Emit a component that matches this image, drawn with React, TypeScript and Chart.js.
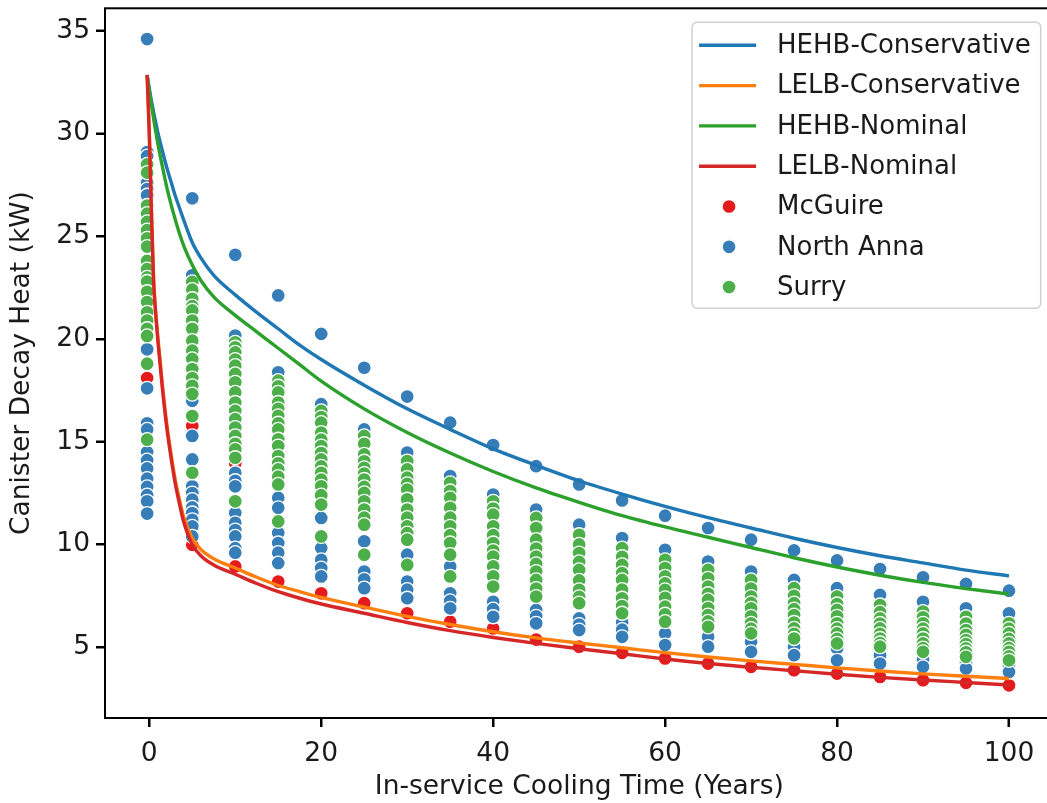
import { useEffect, useRef } from 'react';
import { Chart, registerables } from 'chart.js';

Chart.register(...registerables);

const FONT = "'DejaVu Sans', 'Liberation Sans', sans-serif";
const FONT_SIZE = 26.5;
const LEGEND_FONT_SIZE = 26;

// Cooling time (years) of each measured column
const coolingYears = [-0.25, 5, 10, 15, 20, 25, 30, 35, 40, 45, 50, 55, 60, 65, 70, 75, 80, 85, 90, 95, 100];

// Canister decay heat (kW) per column, by plant
const mcguireHeat: number[][] = [
  [18.1],
  [15.77, 9.98],
  [13.95, 8.93],
  [8.19],
  [7.62],
  [7.14],
  [6.65],
  [6.24],
  [5.91],
  [5.37],
  [5.02],
  [4.72],
  [4.45],
  [4.2],
  [4.04],
  [3.88],
  [3.71],
  [3.55],
  [3.39],
  [3.26],
  [3.14],
];

const northAnnaHeat: number[][] = [
  [34.6, 29.1, 28.9, 27.6, 27.3, 27.0, 26.2, 19.5, 17.6, 15.9, 15.6, 14.5, 14.1, 13.7, 13.2, 12.8, 12.4, 12.1, 11.5],
  [26.85, 23.1, 22.5, 16.99, 15.28, 14.14, 12.83, 12.5, 12.18, 11.8, 11.53, 11.2, 10.88, 10.39],
  [24.1, 20.17, 13.49, 13.1, 12.83, 11.53, 11.05, 10.7, 10.39, 9.82, 9.6],
  [22.12, 18.38, 12.27, 11.78, 10.56, 10.07, 9.6, 9.09],
  [20.25, 16.83, 11.29, 9.82, 9.25, 8.85, 8.44],
  [18.6, 15.6, 10.15, 8.68, 8.3, 7.87],
  [17.2, 14.47, 9.5, 8.19, 7.8, 7.38],
  [15.93, 13.33, 8.93, 7.62, 7.25, 6.89],
  [14.84, 12.43, 7.21, 6.85, 6.48],
  [13.81, 11.7, 6.81, 6.5, 6.16],
  [12.92, 10.96, 6.4, 6.1, 5.83],
  [12.14, 10.31, 6.2, 5.85, 5.5],
  [11.4, 9.74, 5.67, 5.1],
  [10.8, 9.17, 5.5, 5.02],
  [10.23, 8.68, 5.26, 4.77],
  [9.71, 8.27, 5.02, 4.61],
  [9.22, 7.87, 4.94, 4.36],
  [8.8, 7.54, 4.6, 4.2],
  [8.4, 7.21, 4.4, 4.04],
  [8.08, 6.89, 4.25, 3.96],
  [7.75, 6.65, 4.1, 3.79],
];

const surryHeat: number[][] = [
  [28.5, 28.1, 26.5, 26.1, 25.7, 25.3, 24.9, 24.5, 23.8, 23.4, 23.0, 22.8, 22.3, 21.8, 21.3, 20.9, 20.5, 20.15, 18.8, 15.1],
  [22.78, 22.4, 21.96, 21.6, 21.39, 20.9, 20.5, 19.92, 19.43, 19.03, 18.54, 18.1, 17.72, 17.32, 16.25, 13.49],
  [19.84, 19.6, 19.35, 19.0, 18.7, 18.3, 17.89, 17.4, 16.91, 16.5, 16.1, 15.69, 15.28, 14.9, 14.63, 14.22, 12.1],
  [17.97, 17.7, 17.4, 16.91, 16.6, 16.26, 15.9, 15.6, 15.12, 14.79, 14.3, 13.95, 13.65, 13.3, 12.92, 11.12],
  [16.5, 16.2, 15.93, 15.44, 15.1, 14.79, 14.45, 14.14, 13.8, 13.49, 13.15, 12.83, 12.4, 11.94, 10.39],
  [15.28, 14.9, 14.38, 14.05, 13.73, 13.45, 13.16, 12.8, 12.51, 12.1, 11.7, 11.3, 10.96, 9.5],
  [14.06, 13.65, 13.25, 12.95, 12.67, 12.2, 11.7, 11.3, 10.88, 10.55, 10.23, 9.0],
  [13.0, 12.6, 12.27, 11.78, 11.3, 10.88, 10.45, 10.07, 9.5, 8.44],
  [12.1, 11.75, 11.45, 10.88, 10.45, 10.07, 9.7, 9.41, 8.93, 8.45, 7.95],
  [11.29, 10.8, 10.23, 9.8, 9.41, 9.05, 8.68, 8.27, 7.85, 7.46],
  [10.47, 10.0, 9.58, 9.15, 8.76, 8.25, 7.79, 7.45, 7.14],
  [9.82, 9.4, 9.0, 8.6, 8.27, 7.8, 7.38, 7.0, 6.65],
  [9.25, 8.85, 8.44, 8.1, 7.79, 7.4, 6.97, 6.6, 6.24],
  [8.76, 8.35, 7.95, 7.6, 7.3, 6.9, 6.56, 6.25, 5.99],
  [8.27, 7.85, 7.46, 7.15, 6.89, 6.5, 6.16, 5.9, 5.67],
  [7.87, 7.5, 7.14, 6.85, 6.56, 6.2, 5.91, 5.65, 5.42],
  [7.46, 7.1, 6.81, 6.5, 6.16, 5.9, 5.67, 5.4, 5.18],
  [7.05, 6.7, 6.4, 6.15, 5.91, 5.65, 5.42, 5.2, 5.02],
  [6.73, 6.45, 6.16, 5.9, 5.67, 5.42, 5.18, 4.95, 4.77],
  [6.48, 6.15, 5.83, 5.6, 5.34, 5.15, 4.94, 4.75, 4.53],
  [6.16, 5.9, 5.67, 5.4, 5.18, 4.95, 4.77, 4.55, 4.36],
];

// Bounding decay-heat curves
const curveYears = [-0.25, 0, 0.25, 0.5, 0.75, 1, 1.5, 2, 2.5, 3, 3.5, 4, 5, 6, 7.5, 10, 12.5, 15, 17.5, 20, 25, 30, 35, 40, 45, 50, 55, 60, 65, 70, 75, 80, 85, 90, 95, 100];
const hehbConservative = [32.85, 32.2, 31.6, 31.05, 30.55, 30.05, 29.2, 28.4, 27.7, 27.0, 26.4, 25.8, 24.7, 23.95, 23.1, 22.15, 21.3, 20.5, 19.7, 19.0, 17.75, 16.6, 15.6, 14.65, 13.85, 13.1, 12.45, 11.85, 11.3, 10.8, 10.3, 9.85, 9.45, 9.1, 8.75, 8.47];
const lelbConservative = [32.85, 30.1, 26.3, 23.0, 21.3, 20.1, 17.9, 16.0, 14.5, 13.2, 12.2, 11.35, 10.3, 9.75, 9.3, 8.85, 8.4, 8.0, 7.7, 7.42, 6.95, 6.5, 6.1, 5.75, 5.45, 5.2, 4.97, 4.73, 4.52, 4.33, 4.16, 3.99, 3.84, 3.7, 3.58, 3.47];
const hehbNominal = [32.85, 32.1, 31.4, 30.75, 30.1, 29.5, 28.45, 27.45, 26.6, 25.85, 25.15, 24.55, 23.6, 22.85, 22.05, 21.15, 20.35, 19.55, 18.75, 17.95, 16.6, 15.45, 14.45, 13.55, 12.75, 12.05, 11.4, 10.85, 10.35, 9.85, 9.35, 8.9, 8.5, 8.15, 7.85, 7.58];
const lelbNominal = [32.85, 30.0, 26.1, 22.8, 21.2, 19.9, 17.7, 15.8, 14.3, 13.0, 12.0, 11.1, 10.0, 9.45, 9.0, 8.55, 8.1, 7.7, 7.38, 7.1, 6.65, 6.2, 5.8, 5.47, 5.18, 4.92, 4.68, 4.42, 4.2, 4.02, 3.85, 3.68, 3.53, 3.4, 3.28, 3.16];

const yearTicks = [0, 20, 40, 60, 80, 100];
const heatTicks = [5, 10, 15, 20, 25, 30, 35];

const lineSeries = [
  { label: 'HEHB-Conservative', color: '#1f77b4', values: hehbConservative },
  { label: 'LELB-Conservative', color: '#ff7f0e', values: lelbConservative },
  { label: 'HEHB-Nominal', color: '#2ca02c', values: hehbNominal },
  { label: 'LELB-Nominal', color: '#d62728', values: lelbNominal },
];

const plantSeries = [
  { label: 'McGuire', color: '#e41a1c', values: mcguireHeat },
  { label: 'North Anna', color: '#377eb8', values: northAnnaHeat },
  { label: 'Surry', color: '#4daf4a', values: surryHeat },
];

const TICK_LEN = 9;

export default function App() {
  const canvasRef = useRef<HTMLCanvasElement>(null);

  useEffect(() => {
    const canvas = canvasRef.current;
    if (!canvas) return;

    const lineSets = lineSeries.map((s, i) => ({
      type: 'line' as const,
      label: s.label,
      data: s.values.map((v, k) => ({ x: curveYears[k], y: v })),
      borderColor: s.color,
      backgroundColor: s.color,
      borderWidth: 3.4,
      pointRadius: 0,
      showLine: true,
      fill: false,
      cubicInterpolationMode: 'monotone' as const,
      order: 3 - i,
    }));

    const plantSets = plantSeries.map((s, i) => ({
      type: 'scatter' as const,
      label: s.label,
      data: s.values.flatMap((col, k) => col.map((v) => ({ x: coolingYears[k], y: v }))),
      backgroundColor: s.color,
      borderColor: '#ffffff',
      borderWidth: 1.3,
      pointRadius: 7,
      pointHoverRadius: 7,
      order: 6 - i,
    }));

    // Full box around the plotting area, with outward tick marks
    const framePlugin = {
      id: 'frameBox',
      afterDatasetsDraw(chart: Chart) {
        const { ctx, chartArea } = chart;
        const xs = chart.scales.x;
        const ys = chart.scales.y;
        ctx.save();
        ctx.strokeStyle = '#000';
        ctx.lineWidth = 2;
        ctx.strokeRect(chartArea.left, chartArea.top, chartArea.right - chartArea.left, chartArea.bottom - chartArea.top);
        ctx.beginPath();
        yearTicks.forEach((v) => {
          const px = Math.round(xs.getPixelForValue(v));
          ctx.moveTo(px, chartArea.bottom);
          ctx.lineTo(px, chartArea.bottom + TICK_LEN);
        });
        heatTicks.forEach((v) => {
          const py = Math.round(ys.getPixelForValue(v));
          ctx.moveTo(chartArea.left, py);
          ctx.lineTo(chartArea.left - TICK_LEN, py);
        });
        ctx.stroke();
        ctx.restore();
      },
    };

    // Boxed legend in the upper-right corner of the plotting area
    const legendPlugin = {
      id: 'boxLegend',
      afterDraw(chart: Chart) {
        const { ctx, chartArea } = chart;
        const entries = [
          ...lineSeries.map((s) => ({ label: s.label, color: s.color, kind: 'line' })),
          ...plantSeries.map((s) => ({ label: s.label, color: s.color, kind: 'dot' })),
        ];
        ctx.save();
        ctx.font = `${LEGEND_FONT_SIZE}px ${FONT}`;
        const textW = Math.max(...entries.map((e) => ctx.measureText(e.label).width));
        const boxW = 85 + textW + 10;
        const boxH = 286;
        const right = chartArea.right - 13;
        const left = right - boxW;
        const top = chartArea.top + 14;
        const r = 5;
        ctx.beginPath();
        ctx.moveTo(left + r, top);
        ctx.arcTo(right, top, right, top + boxH, r);
        ctx.arcTo(right, top + boxH, left, top + boxH, r);
        ctx.arcTo(left, top + boxH, left, top, r);
        ctx.arcTo(left, top, right, top, r);
        ctx.closePath();
        ctx.fillStyle = 'rgba(255,255,255,0.8)';
        ctx.fill();
        ctx.strokeStyle = '#d0d0d0';
        ctx.lineWidth = 1.5;
        ctx.stroke();

        entries.forEach((e, i) => {
          const cy = top + 23 + i * 40.3;
          if (e.kind === 'line') {
            ctx.strokeStyle = e.color;
            ctx.lineWidth = 3.4;
            ctx.beginPath();
            ctx.moveTo(left + 7, cy);
            ctx.lineTo(left + 64, cy);
            ctx.stroke();
          } else {
            ctx.beginPath();
            ctx.arc(left + 37, cy, 7, 0, Math.PI * 2);
            ctx.fillStyle = e.color;
            ctx.fill();
            ctx.strokeStyle = '#fff';
            ctx.lineWidth = 1.3;
            ctx.stroke();
          }
          ctx.fillStyle = '#1a1a1a';
          ctx.textAlign = 'left';
          ctx.textBaseline = 'middle';
          ctx.fillText(e.label, left + 85, cy + 1);
        });
        ctx.restore();
      },
    };

    const tickFont = { family: FONT, size: FONT_SIZE };

    const chart = new Chart(canvas, {
      type: 'scatter',
      data: { datasets: [...lineSets, ...plantSets] as any },
      options: {
        responsive: false,
        animation: false,
        devicePixelRatio: 1,
        layout: { padding: { left: 0, right: 5, top: 8, bottom: 0 } },
        plugins: {
          legend: { display: false },
          tooltip: { enabled: false },
        },
        scales: {
          x: {
            type: 'linear',
            min: -5.15,
            max: 105.2,
            afterFit: (scale: any) => {
              scale.height = 85;
              scale.paddingLeft = 0;
              scale.paddingRight = 0;
            },
            afterBuildTicks: (scale: any) => {
              scale.ticks = yearTicks.map((v) => ({ value: v }));
            },
            grid: {
              display: true,
              drawOnChartArea: false,
              drawTicks: true,
              tickLength: TICK_LEN,
              tickWidth: 2,
              tickColor: '#000',
            },
            border: { display: false },
            ticks: {
              font: tickFont,
              color: '#1a1a1a',
              padding: 11,
              maxRotation: 0,
              autoSkip: false,
            },
            title: {
              display: true,
              text: 'In-service Cooling Time (Years)',
              font: tickFont,
              color: '#1a1a1a',
              padding: { top: 0, bottom: 0 },
            },
          },
          y: {
            type: 'linear',
            min: 1.55,
            max: 36.1,
            afterFit: (scale: any) => {
              scale.width = 105;
              scale.paddingTop = 0;
              scale.paddingBottom = 0;
            },
            afterBuildTicks: (scale: any) => {
              scale.ticks = heatTicks.map((v) => ({ value: v }));
            },
            grid: {
              display: true,
              drawOnChartArea: false,
              drawTicks: true,
              tickLength: TICK_LEN,
              tickWidth: 2,
              tickColor: '#000',
            },
            border: { display: false },
            ticks: {
              font: tickFont,
              color: '#1a1a1a',
              padding: 6,
              autoSkip: false,
            },
            title: {
              display: true,
              text: 'Canister Decay Heat (kW)',
              font: tickFont,
              color: '#1a1a1a',
              padding: { top: 6, bottom: 0 },
            },
          },
        },
      },
      plugins: [framePlugin, legendPlugin],
    });

    return () => chart.destroy();
  }, []);

  return (
    <div
      style={{
        position: 'fixed',
        left: 0,
        top: 0,
        width: 1062,
        height: 803,
        overflow: 'hidden',
        background: '#fff',
      }}
    >
      <canvas ref={canvasRef} width={1062} height={803} style={{ display: 'block' }} />
    </div>
  );
}
